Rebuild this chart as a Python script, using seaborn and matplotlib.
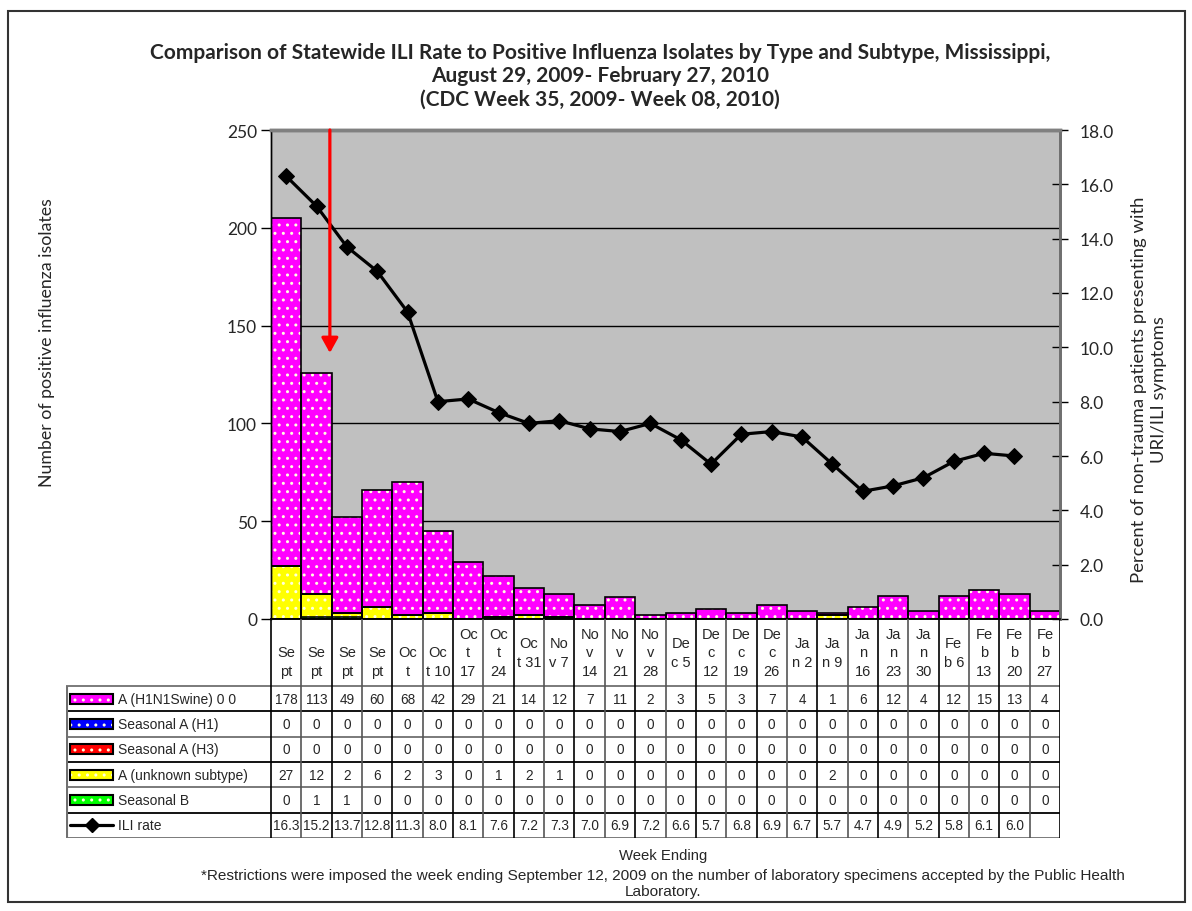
import matplotlib
matplotlib.use("Agg")
import matplotlib.pyplot as plt
from matplotlib.patches import Rectangle
import numpy as np
import pandas as pd
import seaborn as sns

# data
week_labels = ["\nSe\npt", "\nSe\npt", "\nSe\npt", "\nSe\npt", "\nOc\nt", "\nOc\nt 10",
               "Oc\nt\n17", "Oc\nt\n24", "Oc\nt 31", "No\nv 7", "No\nv\n14", "No\nv\n21",
               "No\nv\n28", "De\nc 5", "De\nc\n12", "De\nc\n19", "De\nc\n26", "Ja\nn 2",
               "Ja\nn 9", "Ja\nn\n16", "Ja\nn\n23", "Ja\nn\n30", "Fe\nb 6", "Fe\nb\n13",
               "Fe\nb\n20", "Fe\nb\n27"]
h1n1 = [178, 113, 49, 60, 68, 42, 29, 21, 14, 12, 7, 11, 2, 3, 5, 3, 7, 4, 1, 6, 12, 4, 12, 15, 13, 4]
seas_h1 = [0] * 26
seas_h3 = [0] * 26
unknown = [27, 12, 2, 6, 2, 3, 0, 1, 2, 1, 0, 0, 0, 0, 0, 0, 0, 0, 2, 0, 0, 0, 0, 0, 0, 0]
seas_b = [0, 1, 1, 0, 0, 0, 0, 0, 0, 0, 0, 0, 0, 0, 0, 0, 0, 0, 0, 0, 0, 0, 0, 0, 0, 0]
ili = [16.3, 15.2, 13.7, 12.8, 11.3, 8.0, 8.1, 7.6, 7.2, 7.3, 7.0, 6.9, 7.2, 6.6, 5.7,
       6.8, 6.9, 6.7, 5.7, 4.7, 4.9, 5.2, 5.8, 6.1, 6.0, np.nan]

series_names = ["A (H1N1Swine) 0 0", "Seasonal A (H1)", "Seasonal A (H3)",
                "A (unknown subtype)", "Seasonal B"]
series_colors = ["#FF00FF", "#0000FF", "#FF0000", "#FFFF00", "#00FF00"]

sns.set_style("white")
plt.rcParams["font.family"] = ["Lato", "DejaVu Sans"]
plt.rcParams["hatch.linewidth"] = 1.0
TAB_FONT = ["Liberation Sans", "DejaVu Sans"]

W, H = 1192, 912
fig = plt.figure(figsize=(W / 100, H / 100), dpi=100)

# outer border
fig.patches.append(Rectangle((8 / W, 1 - 903 / H), (1185 - 8) / W, (903 - 12) / H,
                             transform=fig.transFigure, fill=False, lw=1.5,
                             edgecolor="#333333"))

L, R, T, B = 271, 1060, 131, 620
ax = fig.add_axes([L / W, 1 - B / H, (R - L) / W, (B - T) / H])
ax.set_facecolor("#C0C0C0")

pos = np.arange(26)
s_b = np.array(seas_b)
s_unk = s_b + np.array(unknown)
s_h3 = s_unk + np.array(seas_h3)
s_h1 = s_h3 + np.array(seas_h1)
s_tot = s_h1 + np.array(h1n1)
layers = [(s_tot, series_colors[0]), (s_h1, series_colors[1]), (s_h3, series_colors[2]),
          (s_unk, series_colors[3]), (s_b, series_colors[4])]

# stacked bars: draw cumulative heights from the top layer down
for vals, col in layers:
    sns.barplot(x=pos, y=vals, color=col, saturation=1, width=1, errorbar=None,
                edgecolor="#FFFFE0", linewidth=0, hatch="..", ax=ax, zorder=2)
for vals, col in layers:
    sns.barplot(x=pos, y=vals, color="black", fill=False, width=1, errorbar=None,
                linewidth=1.2, ax=ax, zorder=3)

ax.set_xlim(-0.5, 25.5)
ax.set_ylim(0, 250)
ax.set_yticks(range(0, 251, 50))
ax.set_xticks([])
ax.set_xlabel("")
ax.set_ylabel("")
ax.set_axisbelow(True)
ax.yaxis.grid(True, color="black", lw=1)
ax.tick_params(axis="y", direction="out", length=7, width=1, color="black",
               labelsize=12.5, pad=3)

ax2 = ax.twinx()
ili_df = pd.DataFrame({"pos": pos, "ili": ili}).dropna()
sns.lineplot(data=ili_df, x="pos", y="ili", color="black", lw=2.3, marker="D",
             markersize=8.5, markeredgecolor="black", ax=ax2, zorder=5)
ax2.set_ylim(0, 18)
ax2.set_yticks(np.arange(0, 18.1, 2))
ax2.yaxis.set_major_formatter("{x:.1f}")
ax2.set_ylabel("")
ax2.set_xlabel("")
ax2.tick_params(axis="y", direction="inout", length=12, width=1, color="black",
                labelsize=12.5, pad=8)
ax.set_xlim(-0.5, 25.5)

for a in (ax, ax2):
    a.spines["top"].set_color("#808080")
    a.spines["top"].set_linewidth(2.5)
    a.spines["right"].set_color("#707070")
    a.spines["right"].set_linewidth(2)
    a.spines["left"].set_color("black")
    a.spines["left"].set_linewidth(1)
    a.spines["bottom"].set_color("black")
    a.spines["bottom"].set_linewidth(1.2)

# restriction arrow
ax2.annotate("", xy=(1.44, 136 / 250), xycoords=ax2.get_xaxis_transform(),
             xytext=(1.44, 1.0), textcoords=ax2.get_xaxis_transform(),
             arrowprops=dict(arrowstyle="-|>,head_length=0.9,head_width=0.5",
                             color="red", lw=2.3, mutation_scale=10,
                             shrinkA=0, shrinkB=0), zorder=6)

# data table
TL, TB = 66, 839
tab = fig.add_axes([TL / W, 1 - TB / H, (R - TL) / W, (TB - B) / H])
col_w = (R - L) / 26
row_h = (TB - 687) / 6
lab_w = (L - TL) / col_w
hdr = (687 - B) / row_h
tab.set_xlim(-0.5 - lab_w, 25.5)
tab.set_ylim(hdr + 6, 0)
tab.axis("off")

x_left = -0.5 - lab_w
for r in range(7):
    tab.hlines(hdr + r, x_left, 25.5, color="#707070" if r % 2 == 0 else "black", lw=1.3)
for i in range(27):
    tab.vlines(i - 0.5, 0, hdr + 6, color="#555555" if i % 2 else "black", lw=1.2)
tab.vlines(x_left + 0.03, hdr, hdr + 6, color="#707070", lw=1.5)

for i, lab in enumerate(week_labels):
    tab.text(i, hdr / 2, lab, ha="center", va="center", fontsize=10.5,
             family=TAB_FONT, linespacing=1.42)

sw0 = x_left + 4 / col_w
sw1 = x_left + 47 / col_w
txt_x = x_left + 52 / col_w
for r, (vals, name, col) in enumerate(zip([h1n1, seas_h1, seas_h3, unknown, seas_b],
                                           series_names, series_colors)):
    yc = hdr + r + 0.5
    tab.add_patch(Rectangle((sw0, yc - 0.2), sw1 - sw0, 0.4, facecolor=col,
                            edgecolor="#FFFFE0", lw=0, hatch=".."))
    tab.add_patch(Rectangle((sw0, yc - 0.2), sw1 - sw0, 0.4, fill=False,
                            edgecolor="black", lw=1.5))
    tab.text(txt_x, yc, name, ha="left", va="center", fontsize=10, family=TAB_FONT)
    for i, v in enumerate(vals):
        tab.text(i, yc, str(v), ha="center", va="center", fontsize=9.8, family=TAB_FONT)

yc = hdr + 5.5
tab.plot([sw0, sw1], [yc, yc], color="black", lw=2.3)
tab.plot([(sw0 + sw1) / 2], [yc], marker="D", color="black", markersize=7)
tab.text(txt_x, yc, "ILI rate", ha="left", va="center", fontsize=10, family=TAB_FONT)
for i, v in enumerate(ili):
    if not np.isnan(v):
        tab.text(i, yc, f"{v:.1f}", ha="center", va="center", fontsize=9.8, family=TAB_FONT)

# titles and labels
title = ("Comparison of Statewide ILI Rate to Positive Influenza Isolates by Type and Subtype, Mississippi,\n"
         "August 29, 2009- February 27, 2010\n"
         "(CDC Week 35, 2009- Week 08, 2010)")
fig.text(600 / W, 1 - 76 / H, title, ha="center", va="center", fontsize=15,
         fontweight="bold", linespacing=1.2)
fig.text(47 / W, 1 - 343 / H, "Number of positive influenza isolates", rotation=90,
         ha="center", va="center", fontsize=12.8)
fig.text(1149 / W, 1 - 390 / H,
         "Percent of non-trauma patients presenting with\nURI/ILI symptoms",
         rotation=90, ha="center", va="center", fontsize=13.3, linespacing=1.25)
fig.text(663 / W, 1 - 856 / H, "Week Ending", ha="center", va="center",
         fontsize=10.7, family=TAB_FONT)
fig.text(663 / W, 1 - 884 / H,
         "*Restrictions were imposed the week ending September 12, 2009 on the number of laboratory specimens accepted by the Public Health\nLaboratory.",
         ha="center", va="center", fontsize=11.1, family=TAB_FONT, linespacing=1.25)

fig.savefig("out.png", dpi=100)
